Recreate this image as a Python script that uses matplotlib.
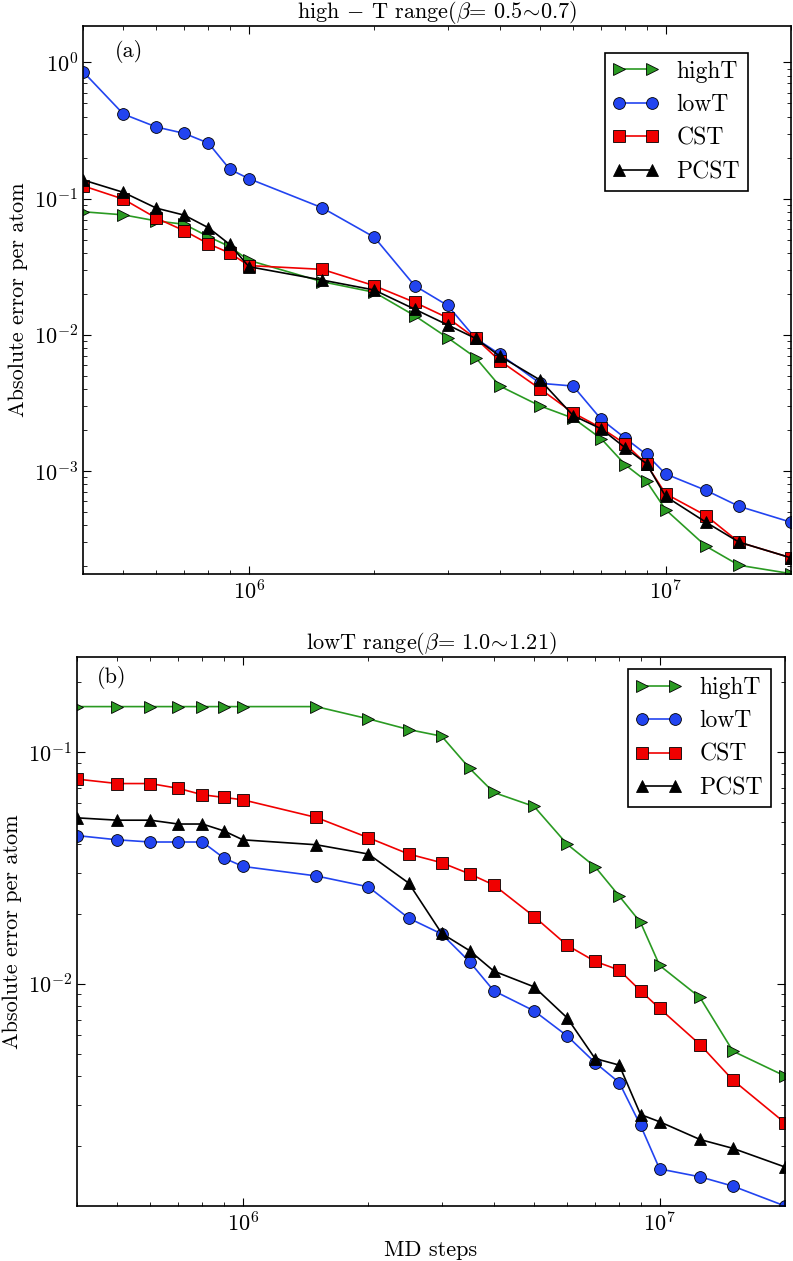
import numpy as np
import matplotlib
matplotlib.use("Agg")
import matplotlib.pyplot as plt

plt.rcParams['font.family'] = ['cmr10', 'DejaVu Serif']
plt.rcParams['mathtext.fontset'] = 'cm'
plt.rcParams['axes.unicode_minus'] = False
plt.rcParams['axes.formatter.use_mathtext'] = True

# MD steps shared by every series
steps = [4e5, 5e5, 6e5, 7e5, 8e5, 9e5, 1e6, 1.5e6, 2e6, 2.5e6, 3e6, 3.5e6,
         4e6, 5e6, 6e6, 7e6, 8e6, 9e6, 1e7, 1.25e7, 1.5e7, 2e7]

# (a) high-T range
a_highT = [0.080, 0.0759, 0.0685, 0.0647, 0.0525, 0.0443, 0.0352, 0.0245, 0.0205,
           0.0138, 0.0095, 0.0068, 0.0042, 0.0030, 0.00244, 0.00173, 0.00111,
           0.00084, 0.00052, 0.00028, 0.000203, 0.000176]
a_lowT = [0.855, 0.417, 0.335, 0.301, 0.255, 0.164, 0.140, 0.0855, 0.052,
          0.0229, 0.0164, 0.0094, 0.0072, 0.0044, 0.0042, 0.0024, 0.00174,
          0.00132, 0.00095, 0.00072, 0.00055, 0.00042]
a_CST = [0.124, 0.099, 0.0718, 0.058, 0.0465, 0.0398, 0.0322, 0.0302, 0.0229,
         0.0173, 0.0133, 0.0094, 0.00645, 0.0040, 0.00267, 0.00207, 0.00158,
         0.00112, 0.00068, 0.00047, 0.00030, 0.00023]
a_PCST = [0.137, 0.111, 0.085, 0.0755, 0.061, 0.046, 0.0316, 0.0252, 0.0213,
          0.0154, 0.0118, 0.0094, 0.00697, 0.00465, 0.00255, 0.00204, 0.00148,
          0.00113, 0.00065, 0.00042, 0.00030, 0.00023]

# (b) low-T range
b_highT = [0.157, 0.157, 0.157, 0.157, 0.157, 0.157, 0.157, 0.157, 0.139,
           0.125, 0.117, 0.085, 0.0669, 0.0582, 0.040, 0.032, 0.0239,
           0.0184, 0.0120, 0.00873, 0.00512, 0.0040]
b_lowT = [0.0436, 0.0418, 0.0409, 0.0409, 0.0409, 0.0349, 0.0321, 0.0292, 0.0262,
          0.0192, 0.0164, 0.01245, 0.00933, 0.00764, 0.00596, 0.00457, 0.00375,
          0.00245, 0.00159, 0.00147, 0.00134, 0.0011]
b_CST = [0.0764, 0.0731, 0.0731, 0.0697, 0.0654, 0.0637, 0.0622, 0.0522, 0.0427,
         0.0363, 0.0333, 0.0298, 0.0267, 0.0195, 0.01466, 0.0125, 0.01146,
         0.00933, 0.00783, 0.00547, 0.00384, 0.00251]
b_PCST = [0.052, 0.0508, 0.0508, 0.0489, 0.0489, 0.0457, 0.0418, 0.0398, 0.0363,
          0.0272, 0.0165, 0.0139, 0.01135, 0.0097, 0.00713, 0.00476, 0.00446,
          0.00273, 0.00254, 0.00213, 0.00195, 0.00162]

labels = ['highT', 'lowT', 'CST', 'PCST']
colors = ['#2a9a22', '#2244f0', '#f00000', '#000000']
markers = ['>', 'o', 's', '^']

fig = plt.figure(figsize=(7.93, 12.61), dpi=100)
ax1 = fig.add_axes([0.1047, 0.5448, 0.8928, 0.4346])
ax2 = fig.add_axes([0.0971, 0.0436, 0.8929, 0.4354])


def draw(ax, series, title, tag, ylim, legend_anchor):
    for ys, lab, c, m in zip(series, labels, colors, markers):
        ax.plot(steps, ys, color=c, marker=m, markersize=8.5, markerfacecolor=c,
                markeredgecolor='k', markeredgewidth=0.6, linewidth=1.2, label=lab)
    ax.set_xscale('log')
    ax.set_yscale('log')
    ax.set_xlim(4e5, 2e7)
    ax.set_ylim(*ylim)
    ax.set_title(title, fontsize=16, pad=4)
    ax.set_ylabel('Absolute error per atom', fontsize=16)
    ax.text(tag[1], tag[2], tag[0], transform=ax.transAxes, fontsize=16,
            va='center', ha='left')
    ax.tick_params(which='both', direction='in', top=True, right=True, labelsize=16)
    ax.tick_params(which='major', length=6, width=0.8)
    ax.tick_params(which='minor', length=3, width=0.6)
    for s in ax.spines.values():
        s.set_linewidth(1.2)
    leg = ax.legend(loc='upper right', bbox_to_anchor=legend_anchor, numpoints=2,
                    fontsize=17, fancybox=False, framealpha=1, handlelength=1.96,
                    borderpad=0.33, labelspacing=0.48, handletextpad=0.76,
                    borderaxespad=0.0)
    leg.get_frame().set_edgecolor('k')
    leg.get_frame().set_linewidth(1.2)


draw(ax1, [a_highT, a_lowT, a_CST, a_PCST],
     r'high $-$ T range($\beta$= 0.5$\!\sim\!$0.7)', ('(a)', 0.045, 0.953),
     (1.75e-4, 1.85), (0.939, 0.951))
draw(ax2, [b_highT, b_lowT, b_CST, b_PCST],
     r'lowT range($\beta$= 1.0$\!\sim\!$1.21)', ('(b)', 0.028, 0.962),
     (1.1e-3, 0.257), (0.98, 0.978))
ax2.set_xlabel('MD steps', fontsize=16)

fig.savefig('out.png', dpi=100)
